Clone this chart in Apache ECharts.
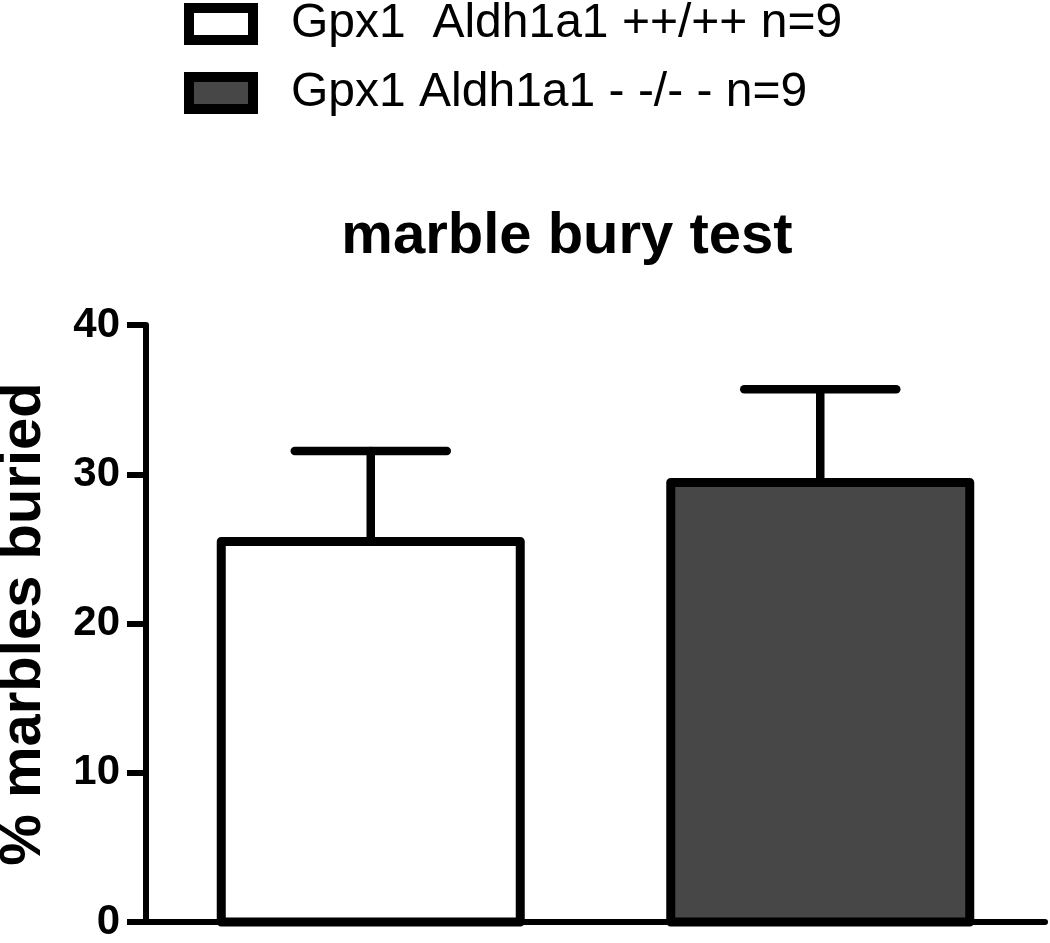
<!DOCTYPE html>
<html>
<head>
<meta charset="utf-8">
<script src="https://cdn.jsdelivr.net/npm/echarts@6/dist/echarts.min.js"></script>
<style>
html, body { margin: 0; padding: 0; background: #fff; }
#main { width: 1050px; height: 943px; }
</style>
</head>
<body>
<div id="main"></div>
<script>
// 数据
var categories = ['wt', 'ko'];
var seriesNames = ['Gpx1  Aldh1a1 ++/++ n=9', 'Gpx1 Aldh1a1 - -/- - n=9'];
var means = [25.5, 29.45];
var errors = [6.05, 6.25];
var yTicks = [0, 10, 20, 30, 40];

var FONT = 'Liberation Sans, Arial, sans-serif';
var fills = ['#ffffff', '#474747'];

var myChart = echarts.init(document.getElementById('main'));

/*柱子，描边居中于数据边界*/
function renderBar(params, api) {
    var idx = api.value(0);
    var top = api.coord([idx, api.value(1)]);
    var base = api.coord([idx, 0]);
    var w = 299;
    return {
        type: 'rect',
        shape: { x: top[0] - w / 2, y: top[1], width: w, height: base[1] - top[1] },
        style: { fill: api.visual('color'), stroke: '#000', lineWidth: 9, lineJoin: 'round' }
    };
}

/*误差线*/
function renderErr(params, api) {
    var idx = api.value(0);
    var lo = api.coord([idx, api.value(1)]);
    var hi = api.coord([idx, api.value(2)]);
    var half = 76;
    var st = { stroke: '#000', lineWidth: 8.5, lineCap: 'round' };
    return {
        type: 'group',
        children: [
            { type: 'line', shape: { x1: lo[0], y1: lo[1], x2: hi[0], y2: hi[1] }, style: st },
            { type: 'line', shape: { x1: hi[0] - half, y1: hi[1], x2: hi[0] + half, y2: hi[1] }, style: st }
        ]
    };
}

var barSeries = seriesNames.map(function (name, i) {
    return {
        name: name,
        type: 'custom',
        renderItem: renderBar,
        z: 2,
        itemStyle: { color: fills[i], borderColor: '#000', borderWidth: 9 },
        data: [[i, means[i]]]
    };
});

var option = {
    backgroundColor: '#fff',
    animation: false,
    title: {
        text: 'marble bury test',
        left: 562,
        top: 203,
        textAlign: 'center',
        textStyle: { fontFamily: FONT, fontSize: 58, fontWeight: 'bold', color: '#000' }
    },
    legend: {
        orient: 'vertical',
        left: 184,
        top: 0,
        padding: 0,
        itemWidth: 64,
        itemHeight: 32,
        itemGap: 21,
        icon: 'rect',
        itemStyle: { borderColor: '#000', borderWidth: 10 },
        textStyle: { fontFamily: FONT, fontSize: 48, lineHeight: 46, color: '#000', padding: [0, 0, 0, 33] },
        data: seriesNames
    },
    grid: { left: 146, right: 5, top: 325, bottom: 21, containLabel: false },
    xAxis: {
        type: 'category',
        data: categories,
        axisLine: { lineStyle: { color: '#000', width: 6 } },
        axisTick: { alignWithLabel: true, length: 18, lineStyle: { color: '#000', width: 5 } },
        axisLabel: { show: false },
        splitLine: { show: false }
    },
    yAxis: {
        type: 'value',
        min: yTicks[0],
        max: yTicks[yTicks.length - 1],
        interval: 10,
        axisLine: { show: true, lineStyle: { color: '#000', width: 6 } },
        axisTick: { show: true, length: 19, lineStyle: { color: '#000', width: 6 } },
        axisLabel: { fontFamily: FONT, fontSize: 42, fontWeight: 'bold', color: '#000', margin: 26 },
        splitLine: { show: false }
    },
    graphic: [{
        type: 'text',
        x: -5,
        y: 624,
        rotation: Math.PI / 2,
        style: {
            text: '% marbles buried',
            font: 'bold 58px ' + FONT,
            fill: '#000',
            textAlign: 'center',
            textVerticalAlign: 'top'
        }
    }],
    series: barSeries.concat([{
        type: 'custom',
        name: 'err',
        renderItem: renderErr,
        z: 3,
        data: categories.map(function (c, j) { return [j, means[j], means[j] + errors[j]]; })
    }])
};

myChart.setOption(option);
</script>
</body>
</html>
